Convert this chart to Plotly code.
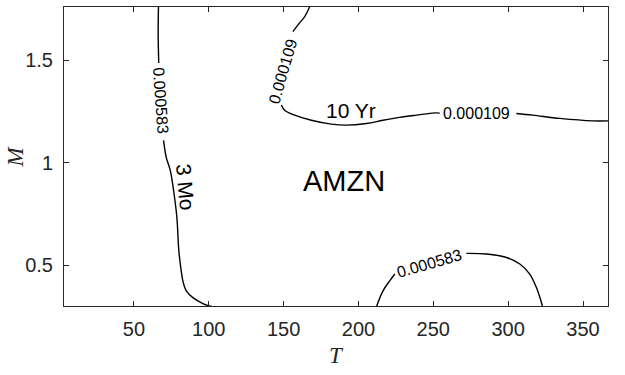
import plotly.graph_objects as go

# contour lines (None = gap where the inline label sits)
mo3_x = [66.4, 66.2, 66.6, None, 69.8, 71.6, 74.3, 76.5, 78.7, 80.0, 81.6, 82.7, 85.0, 89.4, 96.1, 102.5]
mo3_y = [1.761, 1.624, 1.487, None, 1.109, 1.026, 0.962, 0.864, 0.733, 0.570, 0.472, 0.423, 0.374, 0.341, 0.312, 0.296]

yr10_x = [167.4, 164.0, 159.6, 156.2, None, 148.5, 150.7, 157.4, 168.5, 181.9, 191.9, 205.3, 216.4, 227.5,
          238.7, 250.9, 254.3, None, 305.5, 316.4, 334.5, 356.6, 366.7]
yr10_y = [1.761, 1.712, 1.673, 1.640, None, 1.281, 1.256, 1.232, 1.207, 1.188, 1.183, 1.191, 1.207, 1.221,
          1.232, 1.243, 1.242, None, 1.240, 1.232, 1.216, 1.204, 1.204]

low_x = [212.0, 216.4, 220.9, 224.3, None, 272.1, 285.5, 298.9, 307.8, 314.4, 318.9, 322.9]
low_y = [0.296, 0.374, 0.423, 0.456, None, 0.557, 0.554, 0.537, 0.505, 0.456, 0.390, 0.300]

# inline labels: text, x, y, angle
labels = [
    ("0.000583", 68.1, 1.305, 86),
    ("0.000109", 149.3, 1.447, -74),
    ("0.000109", 279.0, 1.241, 0),
    ("0.000583", 247.5, 0.506, -16),
]
names = [("3 Mo", 84.6, 0.879, 85, 21), ("10 Yr", 195.1, 1.256, 0, 21), ("AMZN", 190.4, 0.908, 0, 29)]

x_ticks = [50, 100, 150, 200, 250, 300, 350]
y_ticks = [0.5, 1, 1.5]
y_ticktext = ["0.5", "1", "1.5"]

FONT = "Liberation Sans, Arial, sans-serif"
SERIF = "Liberation Serif, serif"
AX = "#262626"

fig = go.Figure()
for xs, ys in [(mo3_x, mo3_y), (yr10_x, yr10_y), (low_x, low_y)]:
    fig.add_trace(go.Scatter(x=xs, y=ys, mode="lines", line=dict(color="black", width=1.4),
                             line_shape="spline", connectgaps=False, hoverinfo="skip"))

for txt, x, y, ang in labels:
    fig.add_annotation(x=x, y=y, text=txt, textangle=ang, showarrow=False,
                       font=dict(family=FONT, size=16, color="black"))
for txt, x, y, ang, sz in names:
    fig.add_annotation(x=x, y=y, text=txt, textangle=ang, showarrow=False,
                       font=dict(family=FONT, size=sz, color="black"))

# axis titles
fig.add_annotation(x=0.5, y=-0.164, xref="paper", yref="paper", yanchor="middle", text="T",
                   showarrow=False, font=dict(family=SERIF, size=23, color=AX, style="italic"))
fig.add_annotation(x=-0.09, y=0.5, xref="paper", yref="paper", xanchor="center", text="M",
                   textangle=-90, showarrow=False, font=dict(family=SERIF, size=23, color=AX, style="italic"))

axis_common = dict(showline=True, linecolor=AX, linewidth=1, mirror="ticks", ticks="inside",
                   ticklen=5, tickcolor=AX, showgrid=False, zeroline=False, automargin=False,
                   tickfont=dict(family=FONT, size=20, color=AX))

fig.update_layout(
    width=625, height=375,
    margin=dict(l=64, r=17, t=7, b=69),
    paper_bgcolor="white", plot_bgcolor="white",
    showlegend=False,
    xaxis=dict(range=[3.3, 366.7], tickvals=x_ticks, ticklabelstandoff=5, **axis_common),
    yaxis=dict(range=[0.3, 1.76], tickvals=y_ticks, ticktext=y_ticktext, ticklabelstandoff=6, **axis_common),
)

fig.write_html("out.html", config={"displayModeBar": False},
               post_script="document.body.style.margin='0';")
